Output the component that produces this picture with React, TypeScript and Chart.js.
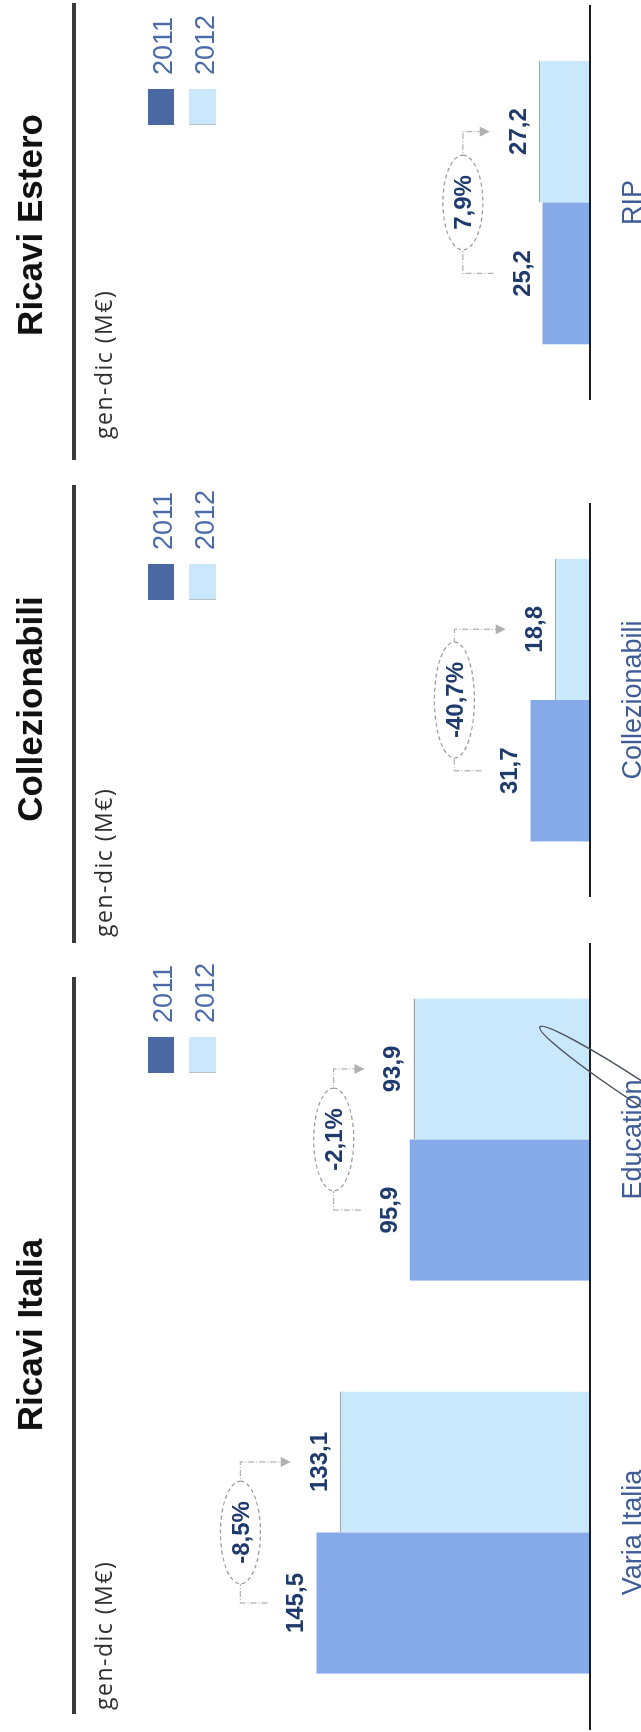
import React, { useEffect, useRef } from 'react';
import { Chart, registerables } from 'chart.js';

Chart.register(...registerables);

// ---------------- data ----------------
const seriesLabels = ['2011', '2012'];
const unitLabel = 'gen-dic (M€)';

const italiaTitle = 'Ricavi Italia';
const italiaCategories = ['Varia Italia', 'Education'];
const italia2011 = [145.5, 95.9];
const italia2012 = [133.1, 93.9];

const collTitle = 'Collezionabili';
const collCategories = ['Collezionabili'];
const coll2011 = [31.7];
const coll2012 = [18.8];

const esteroTitle = 'Ricavi Estero';
const esteroCategories = ['RIP'];
const estero2011 = [25.2];
const estero2012 = [27.2];

const valueMax = 300;

// ---------------- style / layout ----------------
const W = 1732;
const H = 641;
const FONT = '"Liberation Sans", Arial, Helvetica, sans-serif';
const COLOR_2011 = '#86aae8';
const COLOR_2012 = '#cae8fb';
const LEGEND_2011 = '#4a68a2';
const LABEL_NAVY = '#1f3a6d';
const CAT_BLUE = '#3f5c96';

type Panel = {
  title: string;
  categories: string[];
  v2011: number[];
  v2012: number[];
  left: number;
  width: number;
  areaL: number;
  areaR: number;
  titleX: number;
  lineL: number;
  lineR: number;
  unitX: number;
  legendX: number;
  baseL: number;
  baseR: number;
  callout: boolean;
};

const panels: Panel[] = [
  {
    title: italiaTitle, categories: italiaCategories, v2011: italia2011, v2012: italia2012,
    left: 0, width: 800, areaL: 3, areaR: 789, titleX: 397, lineL: 18, lineR: 755,
    unitX: 22, legendX: 659, baseL: 2, baseR: 789, callout: true,
  },
  {
    title: collTitle, categories: collCategories, v2011: coll2011, v2012: coll2012,
    left: 780, width: 480, areaL: 835, areaR: 1229, titleX: 1023, lineL: 789, lineR: 1247,
    unitX: 795, legendX: 1132, baseL: 835, baseR: 1229, callout: false,
  },
  {
    title: esteroTitle, categories: esteroCategories, v2011: estero2011, v2012: estero2012,
    left: 1262, width: 470, areaL: 1332, areaR: 1727, titleX: 1507, lineL: 1272, lineR: 1729,
    unitX: 1293, legendX: 1607, baseL: 1332, baseR: 1727, callout: false,
  },
];

const fmt = (v: number) => v.toFixed(1).replace('.', ',');
const pct = (a: number, b: number) => {
  const p = (b / a - 1) * 100;
  return fmt(p) + '%';
};

function makePlugin(p: Panel) {
  return {
    id: 'panelDecor',
    afterDatasetsDraw(chart: any) {
      const ctx = chart.ctx as CanvasRenderingContext2D;
      const xs = chart.scales.x;
      const ys = chart.scales.y;
      const y0 = ys.getPixelForValue(0);
      const m0 = chart.getDatasetMeta(0);
      const m1 = chart.getDatasetMeta(1);
      ctx.save();

      // baseline
      ctx.strokeStyle = '#1c1c1c';
      ctx.lineWidth = 2;
      ctx.beginPath();
      ctx.moveTo(p.baseL - p.left, y0);
      ctx.lineTo(p.baseR - p.left, y0);
      ctx.stroke();

      // value labels
      ctx.font = `bold 24px ${FONT}`;
      ctx.fillStyle = LABEL_NAVY;
      ctx.textAlign = 'center';
      ctx.textBaseline = 'alphabetic';
      [m0, m1].forEach((m: any, di: number) => {
        m.data.forEach((bar: any, i: number) => {
          const v = chart.data.datasets[di].data[i] as number;
          ctx.fillText(fmt(v), bar.x, bar.y - 13);
        });
      });

      // brackets + percentage bubbles
      p.categories.forEach((_, i) => {
        const b0 = m0.data[i];
        const b1 = m1.data[i];
        const yb = Math.min(b0.y, b1.y) - 76;
        const e0 = b0.y - 49;
        const e1 = b1.y - 49;
        ctx.strokeStyle = '#b3b3b3';
        ctx.lineWidth = 1.3;
        ctx.setLineDash([6, 2, 1, 2]);
        ctx.beginPath();
        ctx.moveTo(b0.x, e0);
        ctx.lineTo(b0.x, yb);
        ctx.lineTo(b1.x, yb);
        ctx.lineTo(b1.x, e1 - 8);
        ctx.stroke();
        ctx.setLineDash([]);
        ctx.fillStyle = '#b0b0b0';
        ctx.beginPath();
        ctx.moveTo(b1.x - 5, e1 - 10);
        ctx.lineTo(b1.x + 5, e1 - 10);
        ctx.lineTo(b1.x, e1);
        ctx.closePath();
        ctx.fill();

        const cx = xs.getPixelForValue(i);
        const txt = pct(p.v2011[i], p.v2012[i]);
        ctx.font = `bold 24px ${FONT}`;
        const tw = ctx.measureText(txt).width;
        ctx.beginPath();
        ctx.ellipse(cx, yb, tw / 2 + 20, 20, 0, 0, Math.PI * 2);
        ctx.fillStyle = '#ffffff';
        ctx.fill();
        ctx.setLineDash([4, 3]);
        ctx.strokeStyle = '#9a9a9a';
        ctx.lineWidth = 1.2;
        ctx.stroke();
        ctx.setLineDash([]);
        ctx.fillStyle = LABEL_NAVY;
        ctx.textAlign = 'center';
        ctx.fillText(txt, cx, yb + 8.5);
      });

      // category labels
      ctx.font = `27px ${FONT}`;
      ctx.fillStyle = CAT_BLUE;
      ctx.textAlign = 'center';
      p.categories.forEach((c, i) => {
        ctx.fillText(c, xs.getPixelForValue(i), 641);
      });

      // callout ellipse
      if (p.callout) {
        ctx.beginPath();
        ctx.ellipse(639 - p.left, 640, 120, 11, -56.6 * Math.PI / 180, 0, Math.PI * 2);
        ctx.strokeStyle = '#4f5560';
        ctx.lineWidth = 1.5;
        ctx.stroke();
      }
      ctx.restore();
    },
    afterDraw(chart: any) {
      const ctx = chart.ctx as CanvasRenderingContext2D;
      ctx.save();
      // title
      ctx.font = `bold 35px ${FONT}`;
      ctx.fillStyle = '#111111';
      ctx.textAlign = 'center';
      ctx.textBaseline = 'alphabetic';
      ctx.fillText(p.title, p.titleX - p.left, 42);
      // header rule
      ctx.strokeStyle = '#3a3a3a';
      ctx.lineWidth = 4;
      ctx.beginPath();
      ctx.moveTo(p.lineL - p.left, 74);
      ctx.lineTo(p.lineR - p.left, 74);
      ctx.stroke();
      // unit
      ctx.font = `23px "Open Sans", ${FONT}`;
      (ctx as any).letterSpacing = '1.5px';
      ctx.fillStyle = '#2e2e2e';
      ctx.textAlign = 'left';
      ctx.fillText(unitLabel, p.unitX - p.left, 112);
      (ctx as any).letterSpacing = '0px';
      // legend
      const lx = p.legendX - p.left;
      ctx.fillStyle = LEGEND_2011;
      ctx.fillRect(lx, 148, 36, 26);
      ctx.fillStyle = COLOR_2012;
      ctx.fillRect(lx, 189, 36, 27);
      ctx.strokeStyle = '#b8c0c8';
      ctx.lineWidth = 1;
      ctx.beginPath();
      ctx.moveTo(lx + 0.5, 189);
      ctx.lineTo(lx + 0.5, 216);
      ctx.stroke();
      ctx.font = `27px ${FONT}`;
      ctx.fillStyle = '#4a6aa8';
      ctx.fillText(seriesLabels[0], lx + 50, 172);
      ctx.fillText(seriesLabels[1], lx + 50, 214);
      ctx.restore();
    },
  };
}

function PanelChart({ p }: { p: Panel }) {
  const ref = useRef<HTMLCanvasElement>(null);
  useEffect(() => {
    const canvas = ref.current;
    if (!canvas) return;
    const chart = new Chart(canvas, {
      type: 'bar',
      data: {
        labels: p.categories,
        datasets: [
          {
            label: seriesLabels[0],
            data: p.v2011,
            backgroundColor: COLOR_2011,
            borderWidth: 0,
            categoryPercentage: 0.718,
            barPercentage: 1,
          },
          {
            label: seriesLabels[1],
            data: p.v2012,
            backgroundColor: COLOR_2012,
            borderColor: '#9ea6ae',
            borderWidth: { top: 1.5, left: 0, right: 0, bottom: 0 },
            categoryPercentage: 0.718,
            barPercentage: 1,
          },
        ],
      },
      options: {
        animation: false,
        responsive: false,
        maintainAspectRatio: false,
        layout: {
          padding: {
            left: p.areaL - p.left,
            right: p.left + p.width - p.areaR,
            top: 26,
            bottom: 51,
          },
        },
        plugins: {
          legend: { display: false },
          tooltip: { enabled: false },
          title: { display: false },
        },
        scales: {
          x: { display: false, offset: true, grid: { display: false } },
          y: { display: false, min: 0, max: valueMax, grid: { display: false } },
        },
      },
      plugins: [makePlugin(p) as any],
    });
    return () => chart.destroy();
  }, [p]);
  return (
    <canvas
      ref={ref}
      width={p.width}
      height={H}
      style={{ position: 'absolute', left: p.left, top: 0, width: p.width, height: H }}
    />
  );
}

export default function App() {
  return (
    <div
      style={{
        position: 'absolute',
        left: 0,
        top: 0,
        width: 641,
        height: 1732,
        overflow: 'hidden',
        background: '#ffffff',
      }}
    >
      <div
        style={{
          position: 'absolute',
          left: 0,
          top: 0,
          width: W,
          height: H,
          transformOrigin: '0 0',
          transform: `translateY(${W}px) rotate(-90deg)`,
        }}
      >
        {panels.map((p) => (
          <PanelChart key={p.title} p={p} />
        ))}
      </div>
    </div>
  );
}
